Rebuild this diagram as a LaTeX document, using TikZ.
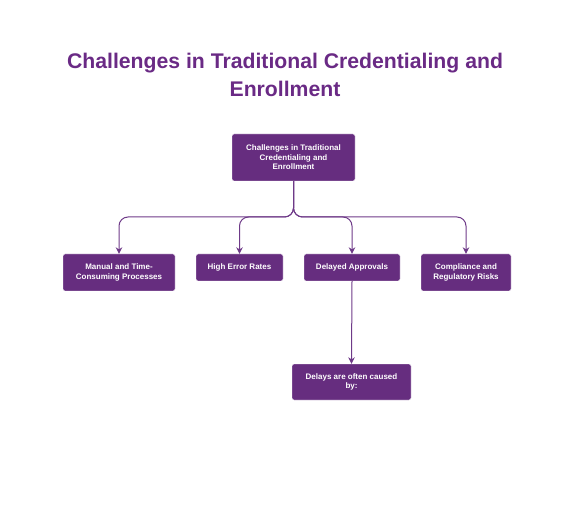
\documentclass[tikz,border=0pt]{standalone}
\usepackage{fontspec}
\setmainfont{Liberation Sans}
\usetikzlibrary{arrows.meta}
\definecolor{boxpurple}{HTML}{662D7F}
\definecolor{titlepurple}{HTML}{6A2A85}
\definecolor{linepurple}{HTML}{6E3A88}
\begin{document}
\begin{tikzpicture}[x=1pt,y=-1pt,
  box/.style={draw=white, fill=boxpurple, rounded corners=2pt, text=white, font=\bfseries\fontsize{8}{9.6}\selectfont, align=center, inner sep=0pt},
  link/.style={draw=linepurple, line width=1pt, rounded corners=9pt, -{Stealth[length=6.5pt,width=6.5pt]}}]
\useasboundingbox (0,0) rectangle (575,510);
\node[font=\bfseries\fontsize{21.2}{28}\selectfont, text=titlepurple, align=center] (title) at (285,75) {Challenges in Traditional Credentialing and\\Enrollment};
\node[box, minimum width=123pt, minimum height=47pt] (root) at (293.5,157.5) {Challenges in Traditional\\Credentialing and\\Enrollment};
\node[box, minimum width=112pt, minimum height=37pt] (m) at (119,272.5) {Manual and Time-\\Consuming Processes};
\node[box, minimum width=87pt, minimum height=27pt] (h) at (239.5,267.5) {High Error Rates};
\node[box, minimum width=96pt, minimum height=27pt] (d) at (352,267.5) {Delayed Approvals};
\node[box, minimum width=90pt, minimum height=37pt] (c) at (466,272.5) {Compliance and\\Regulatory Risks};
\node[box, minimum width=119pt, minimum height=36pt] (x) at (351.5,382) {Delays are often caused\\by:};
\coordinate (j) at (293.5,217);
\draw[link] (root.south) |- (j -| m.north) -- (m.north);
\draw[link] (root.south) |- (j -| h.north) -- (h.north);
\draw[link] (root.south) |- (j -| d.north) -- (d.north);
\draw[link] (root.south) |- (j -| c.north) -- (c.north);
\draw[link] (d.south) -- (x.north);
\end{tikzpicture}
\end{document}
